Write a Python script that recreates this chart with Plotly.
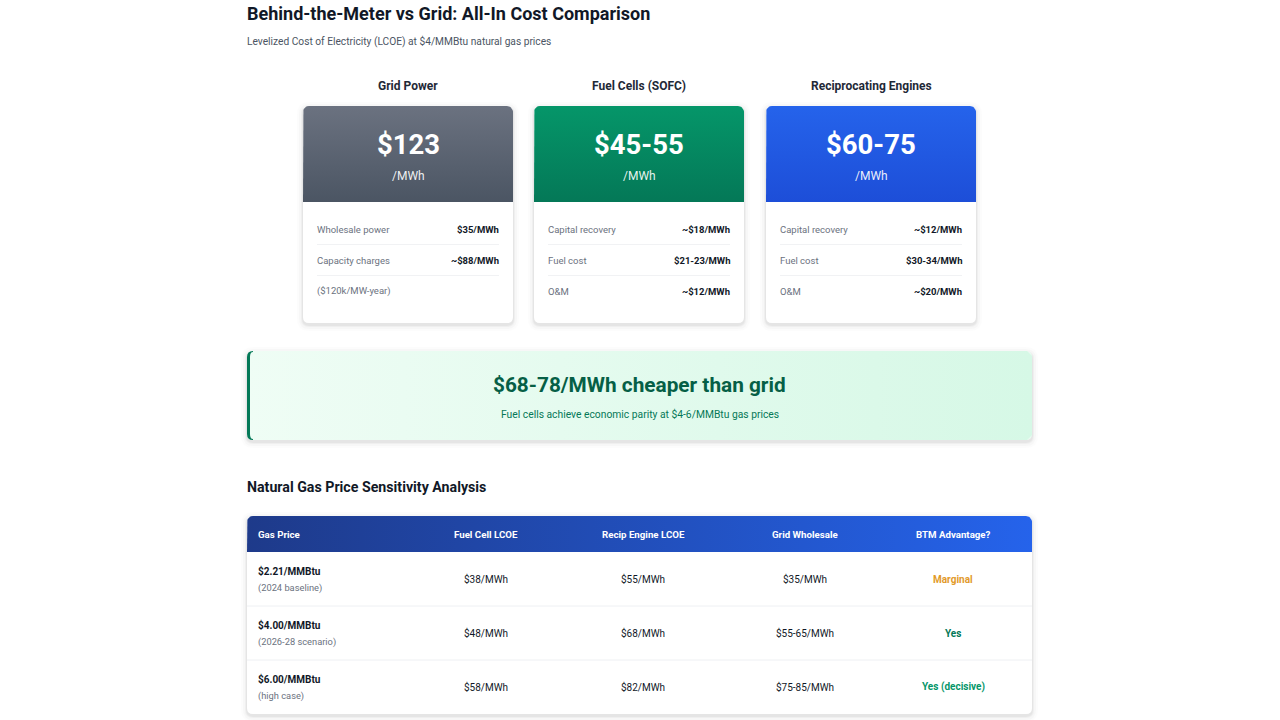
import numpy as np
import plotly.graph_objects as go

# ---- data ----
title = "Behind-the-Meter vs Grid: All-In Cost Comparison"
subtitle = "Levelized Cost of Electricity (LCOE) at $4/MMBtu natural gas prices"

card_titles = ["Grid Power", "Fuel Cells (SOFC)", "Reciprocating Engines"]
card_costs = ["$123", "$45-55", "$60-75"]
card_unit = "/MWh"
grid_labels = ["Wholesale power", "Capacity charges", "($120k/MW-year)"]
grid_amounts = ["$35/MWh", "~$88/MWh", ""]
fuel_cell_labels = ["Capital recovery", "Fuel cost", "O&M"]
fuel_cell_amounts = ["~$18/MWh", "$21-23/MWh", "~$12/MWh"]
recip_labels = ["Capital recovery", "Fuel cost", "O&M"]
recip_amounts = ["~$12/MWh", "$30-34/MWh", "~$20/MWh"]

savings_headline = "$68-78/MWh cheaper than grid"
savings_note = "Fuel cells achieve economic parity at $4-6/MMBtu gas prices"

table_title = "Natural Gas Price Sensitivity Analysis"
table_columns = ["Gas Price", "Fuel Cell LCOE", "Recip Engine LCOE", "Grid Wholesale", "BTM Advantage?"]
gas_prices = ["$2.21/MMBtu", "$4.00/MMBtu", "$6.00/MMBtu"]
gas_notes = ["(2024 baseline)", "(2026-28 scenario)", "(high case)"]
fuel_cell_lcoe = ["$38/MWh", "$48/MWh", "$58/MWh"]
recip_lcoe = ["$55/MWh", "$68/MWh", "$82/MWh"]
grid_wholesale = ["$35/MWh", "$55-65/MWh", "$75-85/MWh"]
btm_advantage = ["Marginal", "Yes", "Yes (decisive)"]

# ---- styles ----
FONT = "Roboto, 'Noto Sans', sans-serif"
header_grads = [("#6b7280", "#4b5563"), ("#059669", "#047857"), ("#2563eb", "#1d4ed8")]
advantage_colors = ["#e29a2a", "#047857", "#059669"]

fig = go.Figure()
shapes = []
annotations = []


def rrect_path(x0, y0, x1, y1, r):
    return (f"M {x0+r},{y0} L {x1-r},{y0} Q {x1},{y0} {x1},{y0+r} "
            f"L {x1},{y1-r} Q {x1},{y1} {x1-r},{y1} L {x0+r},{y1} "
            f"Q {x0},{y1} {x0},{y1-r} L {x0},{y0+r} Q {x0},{y0} {x0+r},{y0} Z")


def top_round_poly(x0, y0, x1, y1, r):
    t = np.linspace(0, np.pi / 2, 10)
    lx = x0 + r - r * np.cos(t)
    ly = y0 + r - r * np.sin(t)
    rx = x1 - r + r * np.sin(t)
    ry = y0 + r - r * np.cos(t)
    xs = [x0] + list(lx) + list(rx) + [x1, x0]
    ys = [y1] + list(ly) + list(ry) + [y1, y1]
    return xs, ys


def shadow(x0, y0, x1, y1, r):
    for k, a in [(6, 0.012), (4, 0.02), (2, 0.03), (1, 0.04)]:
        shapes.append(dict(type="path", path=rrect_path(x0 - k, y0 - k + 2, x1 + k, y1 + k + 2, r + k),
                           fillcolor=f"rgba(0,0,0,{a})", line=dict(width=0), layer="below"))


def text(x, y, s, size, color, bold=False, anchor="center"):
    if bold:
        s = f"<b>{s}</b>"
    # annotation boxes pad the text by ~2px
    if anchor == "left":
        x -= 2
    elif anchor == "right":
        x += 2
    annotations.append(dict(x=x, y=y, xref="x", yref="y", text=s, showarrow=False,
                            xanchor=anchor, yanchor="middle",
                            font=dict(family=FONT, size=size, color=color)))


# title block
text(247, 13, title, 18, "#111827", True, "left")
text(247, 41, subtitle, 10.2, "#4b5563", False, "left")

# cost cards
card_left = [303, 534, 766]
card_w = 210
top, head_bot, bot = 106, 202, 323
row_y = [229, 260, 291]
labels_all = [grid_labels, fuel_cell_labels, recip_labels]
amounts_all = [grid_amounts, fuel_cell_amounts, recip_amounts]
for i, name in enumerate(card_titles):
    x0 = card_left[i]
    x1 = x0 + card_w
    xc = (x0 + x1) / 2
    text(xc, 86, name, 12, "#1f2937", True)
    shadow(x0, top, x1, bot, 6)
    shapes.append(dict(type="path", path=rrect_path(x0, top, x1, bot, 6),
                       fillcolor="white", line=dict(width=0), layer="below"))
    hx, hy = top_round_poly(x0, top, x1, head_bot, 6)
    c_top, c_bot = header_grads[i]
    fig.add_trace(go.Scatter(x=hx, y=hy, mode="lines", fill="toself", line=dict(width=0),
                             fillgradient=dict(type="vertical", start=top, stop=head_bot,
                                               colorscale=[[0, c_top], [1, c_bot]]),
                             hoverinfo="skip", showlegend=False))
    text(xc, 144, card_costs[i], 27.5, "white", True)
    text(xc, 176, card_unit, 12, "rgba(255,255,255,0.92)")
    for j, (lab, amt) in enumerate(zip(labels_all[i], amounts_all[i])):
        text(x0 + 14, row_y[j], lab, 9.5, "#6b7280", False, "left")
        if amt:
            text(x1 - 14, row_y[j], amt, 9.5, "#111827", True, "right")
        if j < 2:
            ys = (row_y[j] + row_y[j + 1]) / 2
            shapes.append(dict(type="line", x0=x0 + 14, x1=x1 - 14, y0=ys, y1=ys,
                               line=dict(color="#f1f2f4", width=1)))

# savings banner
bx0, by0, bx1, by1 = 247, 351, 1032, 440
shadow(bx0, by0, bx1, by1, 6)
shapes.append(dict(type="path", path=rrect_path(bx0, by0, bx1, by1, 6),
                   fillcolor="#e9fbf1", line=dict(width=0), layer="below"))
fig.add_trace(go.Scatter(x=[bx0 + 3, bx1 - 5, bx1, bx1, bx1 - 5, bx0 + 3, bx0 + 3],
                         y=[by0, by0, by0 + 5, by1 - 5, by1, by1, by0],
                         mode="lines", fill="toself", line=dict(width=0),
                         fillgradient=dict(type="horizontal", start=bx0, stop=bx1,
                                           colorscale=[[0, "#effdf5"], [1, "#d6f8e6"]]),
                         hoverinfo="skip", showlegend=False))
shapes.append(dict(type="path",
                   path=f"M {bx0+6},{by0} Q {bx0},{by0} {bx0},{by0+6} L {bx0},{by1-6} Q {bx0},{by1} {bx0+6},{by1} "
                        f"L {bx0+6},{by1-1} Q {bx0+3},{by1-1} {bx0+3},{by1-6} L {bx0+3},{by0+6} Q {bx0+3},{by0+1} {bx0+6},{by0+1} Z",
                   fillcolor="#047857", line=dict(width=0)))
text((bx0 + bx1) / 2, 385, savings_headline, 20.8, "#065f46", True)
text((bx0 + bx1) / 2, 414, savings_note, 10.3, "#047857")

# sensitivity table
text(247, 487, table_title, 14.2, "#111827", True, "left")
tx0, tx1, th0, th1 = 247, 1032, 516, 552
row_h = 54
tb = th1 + row_h * len(gas_prices)
shadow(tx0, th0, tx1, tb, 6)
shapes.append(dict(type="path", path=rrect_path(tx0, th0, tx1, tb, 6),
                   fillcolor="white", line=dict(width=0), layer="below"))
hx, hy = top_round_poly(tx0, th0, tx1, th1, 6)
fig.add_trace(go.Scatter(x=hx, y=hy, mode="lines", fill="toself", line=dict(width=0),
                         fillgradient=dict(type="horizontal", start=tx0, stop=tx1,
                                           colorscale=[[0, "#1e3a8a"], [1, "#2563eb"]]),
                         hoverinfo="skip", showlegend=False))
col_x = [258, 486, 643, 805, 953]
for k, col in enumerate(table_columns):
    text(col_x[k], (th0 + th1) / 2, col, 9.7, "white", True, "left" if k == 0 else "center")
for r in range(len(gas_prices)):
    yc = th1 + row_h * r + row_h / 2
    text(258, yc - 8, gas_prices[r], 10, "#111827", True, "left")
    text(258, yc + 8.5, gas_notes[r], 9.3, "#6b7280", False, "left")
    text(col_x[1], yc, fuel_cell_lcoe[r], 10, "#111827")
    text(col_x[2], yc, recip_lcoe[r], 10, "#111827")
    text(col_x[3], yc, grid_wholesale[r], 10, "#111827")
    text(col_x[4], yc, btm_advantage[r], 10, advantage_colors[r], True)
    if r < len(gas_prices) - 1:
        yl = th1 + row_h * (r + 1)
        shapes.append(dict(type="line", x0=tx0, x1=tx1, y0=yl, y1=yl,
                           line=dict(color="#eef0f3", width=1)))

fig.update_layout(
    width=1280, height=720,
    margin=dict(l=0, r=0, t=0, b=0),
    paper_bgcolor="white", plot_bgcolor="white",
    xaxis=dict(range=[0, 1280], visible=False, fixedrange=True),
    yaxis=dict(range=[720, 0], visible=False, fixedrange=True),
    shapes=shapes, annotations=annotations,
    showlegend=False,
)

# drop the default page margin so the figure fills the window
fig.write_html("out.html", config={"displayModeBar": False},
               post_script="document.body.style.margin='0';")
